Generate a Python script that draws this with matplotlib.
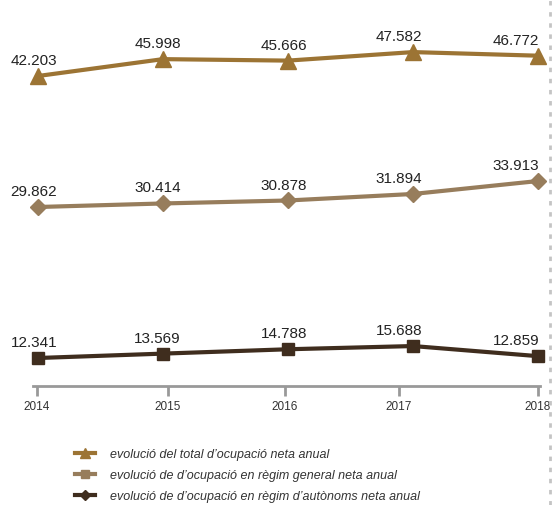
import matplotlib
matplotlib.use("Agg")
import matplotlib.pyplot as plt
from matplotlib.lines import Line2D

years = ["2014", "2015", "2016", "2017", "2018"]
total = [42203, 45998, 45666, 47582, 46772]
general = [29862, 30414, 30878, 31894, 33913]
autonoms = [12341, 13569, 14788, 15688, 12859]
labels_total = ["42.203", "45.998", "45.666", "47.582", "46.772"]
labels_general = ["29.862", "30.414", "30.878", "31.894", "33.913"]
labels_autonoms = ["12.341", "13.569", "14.788", "15.688", "12.859"]
legend_names = [
    "evolució del total d\u2019ocupació neta anual",
    "evolució de d\u2019ocupació en règim general neta anual",
    "evolució de d\u2019ocupació en règim d\u2019autònoms neta anual",
]

c_total = "#9c7434"
c_general = "#977d5c"
c_aut = "#3f2d1e"

plt.rcParams['font.family'] = ['Liberation Sans', 'DejaVu Sans']

W, H = 552, 506
fig = plt.figure(figsize=(W / 100, H / 100), dpi=100)

ax_top_px, ax_bot_px = 30, 387
ax_left_px, ax_right_px = 33, 540
ax = fig.add_axes([ax_left_px / W, 1 - ax_bot_px / H,
                   (ax_right_px - ax_left_px) / W, (ax_bot_px - ax_top_px) / H])
x = list(range(len(years)))
# x index 0..4 -> px 38..538
p0, p4 = 38, 538
ppu = (p4 - p0) / 4
ax.set_xlim(-(p0 - ax_left_px) / ppu, 4 + (ax_right_px - p4) / ppu)
ax.set_ylim(0, 1)
for s in ["top", "right", "left"]:
    ax.spines[s].set_visible(False)
ax.spines["bottom"].set_color("#999999")
ax.spines["bottom"].set_linewidth(2)
ax.set_yticks([])
tick_px = [37, 168, 285, 399, 538]
ax.set_xticks([(p - p0) / ppu for p in tick_px])
ax.set_xticklabels(years, fontsize=8.5, color="#333333")
ax.tick_params(axis="x", length=7, width=2, color="#999999", pad=3)
ax.patch.set_alpha(0)


def series_axis(anchor_v, anchor_y, rate):
    a = ax.twinx()
    a.set_ylim(anchor_v + (anchor_y - ax_bot_px) * rate,
               anchor_v + (anchor_y - ax_top_px) * rate)
    a.axis("off")
    return a


a_tot = series_axis(42203, 77, 225)
a_gen = series_axis(29862, 208, 156)
a_aut = series_axis(12341, 359, 280)

dx = [-3, -4, -3, -10, -16]

for a, vals, labs, col, mk, ms in [
    (a_tot, total, labels_total, c_total, "^", 11),
    (a_gen, general, labels_general, c_general, "D", 8),
    (a_aut, autonoms, labels_autonoms, c_aut, "s", 9),
]:
    a.plot(x, vals, color=col, lw=3, marker=mk, markersize=ms,
           markeredgecolor=col, markerfacecolor=col, solid_joinstyle="round", clip_on=False)
    for i, (v, t) in enumerate(zip(vals, labs)):
        a.annotate(t, (x[i], v), xytext=(dx[i], 11.5), textcoords="offset points",
                   ha="center", va="center", fontsize=11, color="#222222")

# right dashed line
fig.add_artist(Line2D([550 / W, 550 / W], [0, 1], transform=fig.transFigure,
                      color="#c4c4c4", lw=2, linestyle=(0, (1.6, 2.4))))

# legend
handles = [
    Line2D([], [], color=c_total, lw=3, marker="^", markersize=7),
    Line2D([], [], color=c_general, lw=3, marker="s", markersize=6),
    Line2D([], [], color=c_aut, lw=3, marker="D", markersize=5),
]
leg = fig.legend(handles, legend_names, loc="upper left",
                 bbox_to_anchor=(75 / W, 1 - 449 / H), frameon=False,
                 prop={"style": "italic", "size": 9}, handlelength=1.6,
                 handletextpad=1.2, labelspacing=0.74, borderpad=0, borderaxespad=0)
for t in leg.get_texts():
    t.set_color("#333333")

fig.savefig("out.png", dpi=100)
